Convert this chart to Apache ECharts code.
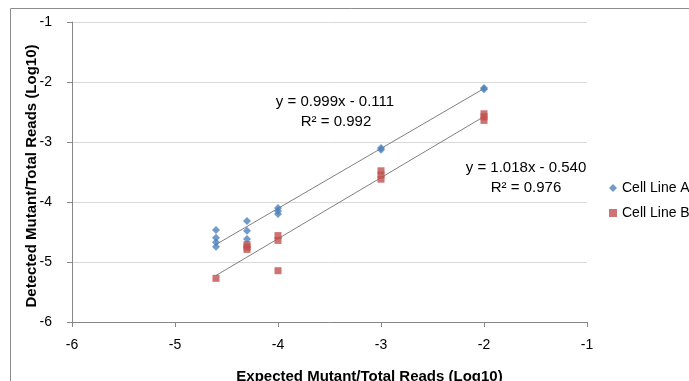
<!DOCTYPE html>
<html><head><meta charset="utf-8">
<script src="https://cdn.jsdelivr.net/npm/echarts@6/dist/echarts.min.js"></script>
<style>html,body{margin:0;padding:0;background:#fff}#c{width:689px;height:381px}</style>
</head><body><div id="c"></div>
<script>
// Expected log10 values (x) and detected log10 values (y)
const cellA_x = [-4.602,-4.602,-4.602,-4.602,-4.301,-4.301,-4.301,-4,-4,-4,-3,-3,-2,-2];
const cellA_y = [-4.467,-4.595,-4.672,-4.745,-4.317,-4.478,-4.617,-4.10,-4.15,-4.20,-3.10,-3.13,-2.10,-2.12];
const cellB_x = [-4.602,-4.301,-4.301,-4.301,-4,-4,-4,-3,-3,-3,-2,-2,-2];
const cellB_y = [-5.272,-4.71,-4.75,-4.79,-4.56,-4.64,-5.145,-3.48,-3.55,-3.62,-2.53,-2.58,-2.64];
const seriesNames = ['Cell Line A','Cell Line B'];
const fitA = {slope:0.999, intercept:-0.111, r2:0.992, from:-4.602, to:-2};
const fitB = {slope:1.018, intercept:-0.540, r2:0.976, from:-4.602, to:-2};
const xTitle = 'Expected Mutant/Total Reads (Log10)';
const yTitle = 'Detected Mutant/Total Reads (Log10)';

function pairs(xs, ys){ return xs.map((x,i)=>[x, ys[i]]); }
function fitLine(f){ return [[f.from, f.slope*f.from+f.intercept],[f.to, f.slope*f.to+f.intercept]]; }
function eqText(f){ return 'y = ' + f.slope.toFixed(3) + 'x - ' + Math.abs(f.intercept).toFixed(3); }

const FONT = 'Liberation Sans';
const chart = echarts.init(document.getElementById('c'));
chart.setOption({
  animation:false,
  textStyle:{fontFamily:FONT},
  grid:{left:72, right:102, top:22, bottom:59, containLabel:false, outerBoundsMode:'none'},
  xAxis:{type:'value', min:-6, max:-1, interval:1,
    axisLine:{onZero:false, lineStyle:{color:'#868686'}},
    axisTick:{show:true, length:5, lineStyle:{color:'#868686'}},
    axisLabel:{color:'#000', fontSize:14, margin:16, fontFamily:FONT},
    splitLine:{show:false},
    name:xTitle, nameLocation:'middle', nameGap:47, nameMoveOverlap:false,
    nameTextStyle:{color:'#000', fontSize:15, fontWeight:'bold', fontFamily:FONT, padding:[0,0,0,80]}
  },
  yAxis:{type:'value', min:-6, max:-1, interval:1,
    axisLine:{show:true, onZero:false, lineStyle:{color:'#868686'}},
    axisTick:{show:true, length:5, lineStyle:{color:'#868686'}},
    axisLabel:{color:'#000', fontSize:14, margin:20, fontFamily:FONT},
    splitLine:{show:true, lineStyle:{color:'#d9d9d9'}},
    name:yTitle, nameLocation:'middle', nameGap:33, nameRotate:90, nameMoveOverlap:false,
    nameTextStyle:{color:'#000', fontSize:15, fontWeight:'bold', fontFamily:FONT, padding:[0,0,0,-8]}
  },
  legend:{orient:'vertical', left:604, top:176, itemGap:11, itemWidth:8, itemHeight:8,
    textStyle:{fontSize:14, color:'#000', fontFamily:FONT},
    data:[{name:seriesNames[0], icon:'diamond'},{name:seriesNames[1], icon:'rect'}]},
  series:[
    {name:seriesNames[0], type:'scatter', symbol:'diamond', symbolSize:8, itemStyle:{color:'#4f81bd'}, data:pairs(cellA_x, cellA_y), z:3},
    {name:seriesNames[1], type:'scatter', symbol:'rect', symbolSize:7, itemStyle:{color:'#c0504d'}, data:pairs(cellB_x, cellB_y), z:3},
    {type:'line', data:fitLine(fitA), symbol:'none', lineStyle:{color:'#7f7f7f', width:1}, z:2, silent:true},
    {type:'line', data:fitLine(fitB), symbol:'none', lineStyle:{color:'#7f7f7f', width:1}, z:2, silent:true}
  ],
  graphic:[
    {type:'rect', shape:{x:10.5, y:8.5, width:700, height:400}, style:{fill:'none', stroke:'#8c8c8c', lineWidth:1}, z:-1},
    {type:'text', x:335, y:102, style:{text:eqText(fitA), font:'15px '+FONT, fill:'#000', textAlign:'center', textVerticalAlign:'middle'}},
    {type:'text', x:336, y:122, style:{text:'R² = ' + fitA.r2.toFixed(3), font:'15px '+FONT, fill:'#000', textAlign:'center', textVerticalAlign:'middle'}},
    {type:'text', x:526, y:168, style:{text:eqText(fitB), font:'15px '+FONT, fill:'#000', textAlign:'center', textVerticalAlign:'middle'}},
    {type:'text', x:526, y:188, style:{text:'R² = ' + fitB.r2.toFixed(3), font:'15px '+FONT, fill:'#000', textAlign:'center', textVerticalAlign:'middle'}}
  ]
});
</script></body></html>
